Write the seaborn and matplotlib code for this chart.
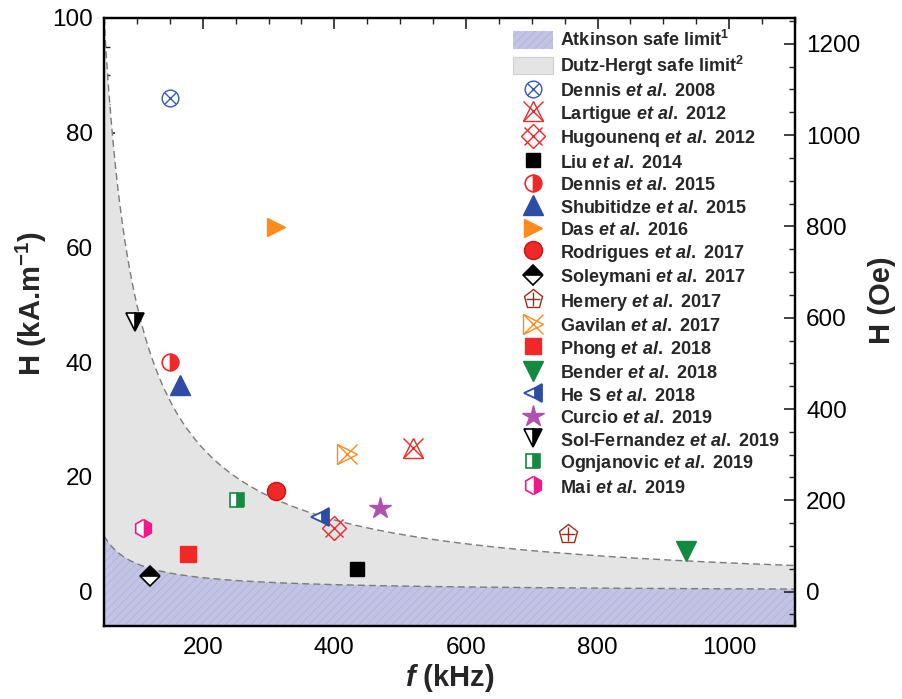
import numpy as np
import pandas as pd
import matplotlib
matplotlib.use("Agg")
import matplotlib.pyplot as plt
import seaborn as sns
from matplotlib.lines import Line2D
from matplotlib.patches import Patch
from matplotlib.legend_handler import HandlerTuple
from matplotlib.ticker import MultipleLocator

sns.set_theme(style="white")
plt.rcParams["font.family"] = ["Liberation Sans", "DejaVu Sans"]
plt.rcParams["mathtext.fontset"] = "custom"
plt.rcParams["mathtext.rm"] = "Liberation Sans:bold"
plt.rcParams["mathtext.it"] = "Liberation Sans:italic:bold"
plt.rcParams["mathtext.bf"] = "Liberation Sans:bold"
plt.rcParams["hatch.linewidth"] = 0.6

# ---------------- data ----------------
authors = ["Dennis", "Lartigue", "Hugounenq", "Liu", "Dennis", "Shubitidze", "Das",
           "Rodrigues", "Soleymani", "Hemery", "Gavilan", "Phong", "Bender", "He S",
           "Curcio", "Sol-Fernandez", "Ognjanovic", "Mai"]
years = [2008, 2012, 2012, 2014, 2015, 2015, 2016, 2017, 2017, 2017, 2017, 2018,
         2018, 2018, 2019, 2019, 2019, 2019]
freq_khz = [150, 520, 400, 435, 150, 165, 312, 311, 120, 755, 420, 178, 935, 378,
            470, 97, 252, 110]
field_kam = [86, 25, 11, 4.0, 40, 36, 63.5, 17.5, 2.8, 10, 24, 6.5, 7.0, 13, 14.5,
             47, 16, 11]

ATKINSON_HF = 485.0      # H*f limit, (kA/m)*kHz
DUTZ_HERGT_HF = 5000.0   # H*f limit, (kA/m)*kHz
F_RANGE = [50, 1100]
H_RANGE = [-6, 100]
KAM_TO_OE = 12.566

legend_fill_labels = ["Atkinson safe limit$^1$", "Dutz-Hergt safe limit$^2$"]

# ---------------- styles ----------------
BLUE = "#3558c0"
DBLUE = "#2c4ca6"
RED = "#f02828"
ORANGE = "#ff8a1e"
GREEN = "#138a40"
PURPLE = "#b050b0"
MAGENTA = "#ee1a8c"
BROWN = "#9b2f1f"

def L(marker, ms, fc, ec, fill="full", alt="white", mew=1.0):
    return dict(marker=marker, markersize=ms, markerfacecolor=fc, markeredgecolor=ec,
                fillstyle=fill, markerfacecoloralt=alt, markeredgewidth=mew)

styles = [
    [L("o", 12, "none", BLUE, "none"), L("x", 9, "none", BLUE)],
    [L("^", 15, "none", RED, "none"), L("x", 15, "none", RED)],
    [L("D", 12, "none", RED, "none"), L("x", 13, "none", RED)],
    [L("s", 10, "black", "black")],
    [L("o", 12, RED, RED, "right", "white", 1.2)],
    [L("^", 14, DBLUE, DBLUE)],
    [L(">", 13, ORANGE, ORANGE)],
    [L("o", 13, RED, "#d01010")],
    [L("D", 10, "black", "black", "top", "white", 1.2)],
    [L("p", 14, "none", BROWN, "none"), L("+", 10, "none", BROWN)],
    [L(">", 14, "none", ORANGE, "none"), L("x", 14, "none", ORANGE)],
    [L("s", 11, RED, RED)],
    [L("v", 14, GREEN, GREEN)],
    [L("<", 13, DBLUE, DBLUE, "right", "white", 1.3)],
    [L("*", 16, PURPLE, PURPLE)],
    [L("v", 13, "black", "black", "right", "white", 1.2)],
    [L("s", 10, GREEN, GREEN, "right", "white", 1.2)],
    [L("h", 13, MAGENTA, MAGENTA, "right", "white", 1.2)],
]

df = pd.DataFrame({"author": authors, "year": years, "f": freq_khz, "H": field_kam})
df["label"] = [f"{a} $\\mathit{{et\\ al.}}$ {y}" for a, y in zip(authors, years)]

# ---------------- figure ----------------
fig = plt.figure(figsize=(9.03, 6.99), dpi=100)
ax = fig.add_axes([104 / 903, 1 - 626 / 699, 691 / 903, 608 / 699])

f_curve = np.linspace(F_RANGE[0], F_RANGE[1], 600)
h_atk = ATKINSON_HF / f_curve
h_dutz = DUTZ_HERGT_HF / f_curve

ax.fill_between(f_curve, H_RANGE[0], h_dutz, facecolor="#e4e4e4", edgecolor="none", zorder=1)
ax.fill_between(f_curve, H_RANGE[0], h_atk, facecolor="#c3c3e5", edgecolor="#b0b2d9",
                hatch="////", linewidth=0, zorder=1.5)
sns.lineplot(x=f_curve, y=h_dutz, ax=ax, color="#7a7a7a", linestyle=(0, (5, 3)),
             linewidth=1.0, zorder=2)
sns.lineplot(x=f_curve, y=h_atk, ax=ax, color="#7a7a7a", linestyle=(0, (5, 3)),
             linewidth=1.0, zorder=2)

handles = []
for i, row in df.iterrows():
    sub = df.iloc[[i]]
    layer_handles = []
    for lay in styles[i]:
        sns.lineplot(data=sub, x="f", y="H", ax=ax, linestyle="none", zorder=4,
                     errorbar=None, color=lay["markeredgecolor"], **lay)
        layer_handles.append(Line2D([], [], linestyle="none", **lay))
    handles.append(tuple(layer_handles) if len(layer_handles) > 1 else layer_handles[0])

ax.set_xlim(*F_RANGE)
ax.set_ylim(*H_RANGE)
ax.xaxis.set_major_locator(MultipleLocator(200))
ax.xaxis.set_minor_locator(MultipleLocator(50))
ax.yaxis.set_major_locator(MultipleLocator(20))
ax.yaxis.set_minor_locator(MultipleLocator(5))
ax.tick_params(which="both", direction="in", top=True, bottom=True, left=True,
               right=False, colors="#222222", labelcolor="black", labelsize=17.5)
ax.tick_params(which="major", length=8, width=1.2, pad=8)
ax.tick_params(which="minor", length=4, width=1.0)
for s in ax.spines.values():
    s.set_linewidth(1.6)
    s.set_color("black")

ax.set_xlabel("$\\mathit{f}$ (kHz)", fontsize=21, fontweight="bold", labelpad=2)
ax.set_ylabel("H (kA.m$^{-1}$)", fontsize=21, fontweight="bold")
ax.yaxis.set_label_coords((49 - 104) / 691, (626 - 304) / 608)

ax2 = ax.twinx()
ax2.set_ylim(H_RANGE[0] * KAM_TO_OE, H_RANGE[1] * KAM_TO_OE)
ax2.yaxis.set_major_locator(MultipleLocator(200))
ax2.yaxis.set_minor_locator(MultipleLocator(50))
ax2.tick_params(which="both", direction="in", right=True, colors="#222222",
                labelcolor="black", labelsize=17.5)
ax2.tick_params(which="major", length=8, width=1.2, pad=8)
ax2.tick_params(which="minor", length=4, width=1.0)
ax2.grid(False)
for s in ax2.spines.values():
    s.set_linewidth(1.6)
    s.set_color("black")
ax2.set_ylabel("H (Oe)", fontsize=21, fontweight="bold")
ax2.yaxis.set_label_coords((868 - 104) / 691, (626 - 300) / 608)

fill_handles = [
    Patch(facecolor="#c3c3e5", edgecolor="#b0b2d9", hatch="////", linewidth=0),
    Patch(facecolor="#e4e4e4", edgecolor="#d0d0d0", linewidth=0.8),
]
all_handles = fill_handles + handles
all_labels = legend_fill_labels + list(df["label"])
leg = ax.legend(all_handles, all_labels, loc="upper left",
                bbox_to_anchor=((513 - 104) / 691, (626 - 30) / 608),
                frameon=False, fontsize=13, handlelength=2.2, handleheight=1.15,
                handletextpad=0.4, labelspacing=0.19, borderpad=0, borderaxespad=0,
                handler_map={tuple: HandlerTuple(ndivide=1, pad=0)})
for t in leg.get_texts():
    t.set_fontweight("bold")

fig.savefig("out.png", dpi=100)
